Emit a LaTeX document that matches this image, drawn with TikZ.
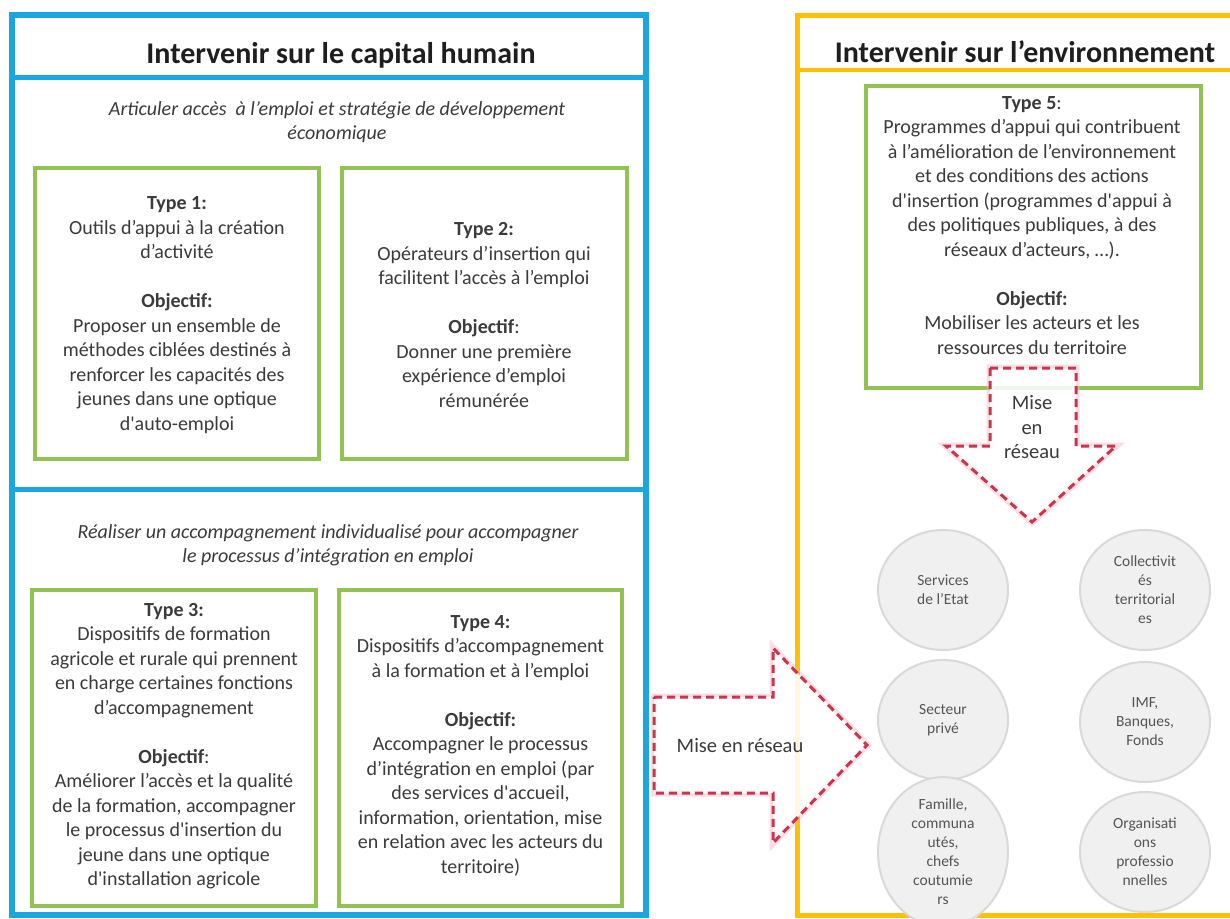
\documentclass[tikz,border=0pt]{standalone}
\usepackage{fontspec}
\setmainfont{Carlito}
\usetikzlibrary{shapes.geometric}
\definecolor{cblue}{HTML}{1AA5E3}
\definecolor{cyel}{HTML}{FFC000}
\definecolor{cgreen}{HTML}{92C352}
\definecolor{cred}{HTML}{C9344E}
\definecolor{cglow}{HTML}{F4B6C2}
\definecolor{ctext}{HTML}{3B3B3B}
\definecolor{ctitle}{HTML}{1E1E1E}
\definecolor{ccirc}{HTML}{F0F0F0}
\definecolor{ccircb}{HTML}{D9D9D9}
\definecolor{ccirct}{HTML}{555555}
\newcommand{\sq}{\textquotesingle}
\begin{document}
\begin{tikzpicture}[x=1pt,y=-1pt,
  frameblue/.style={draw=cblue,line width=6pt},
  frameyel/.style={draw=cyel,line width=5pt},
  greenbox/.style={draw=cgreen,line width=4pt,fill=white,inner sep=0pt,outer sep=0pt},
  maintitle/.style={font=\fontsize{30}{36}\selectfont\bfseries,text=ctitle,inner sep=0pt},
  subtitle/.style={font=\fontsize{20}{24.5}\selectfont\itshape,text=ctext,align=center,inner sep=0pt},
  bodytext/.style={font=\fontsize{20}{24.5}\selectfont,text=ctext,align=center,inner sep=0pt},
  actor/.style={ellipse,draw=ccircb,line width=2pt,fill=ccirc,minimum width=130pt,minimum height=120pt,inner sep=0pt,
    font=\fontsize{15.5}{19}\selectfont,text=ccirct,align=center},
  netarrow/.style={draw=cred,line width=3pt,dash pattern=on 8pt off 5pt,fill=white,fill opacity=0.88,draw opacity=1},
  netglow/.style={draw=cglow,line width=7pt,opacity=0.45},
  arrowtext/.style={font=\fontsize{20.5}{24.5}\selectfont,text=ctext,align=center,inner sep=0pt}
]
\useasboundingbox (0,0) rectangle (1230,918);
\fill[white] (0,0) rectangle (1230,918);

% ---- left frame: capital humain ----
\node[frameblue,minimum width=634pt,minimum height=900pt,inner sep=0pt] (leftframe) at (329,465) {};
\draw[cblue,line width=5pt] (leftframe.west |- 0,77) coordinate (lh1) -- (leftframe.east |- 0,77) coordinate (lh2);
\draw[cblue,line width=5pt] (leftframe.west |- 0,489) coordinate (lm1) -- (leftframe.east |- 0,489) coordinate (lm2);
\node[maintitle] (lefttitle) at (341,55) {Intervenir sur le capital humain};
\node[subtitle] (sub1) at (337,122) {Articuler accès\ \ à l’emploi et stratégie de développement\\économique};
\node[subtitle] (sub2) at (328,545.5) {Réaliser un accompagnement individualisé pour accompagner\\le processus d’intégration en emploi};

% ---- right frame: environnement ----
\node[frameyel,minimum width=443pt,minimum height=900pt,inner sep=0pt] (rightframe) at (1018.5,465) {};
\draw[cyel,line width=4pt] (rightframe.west |- 0,70) coordinate (rh1) -- (rightframe.east |- 0,70) coordinate (rh2);
\node[maintitle] (righttitle) at (1025,52) {Intervenir sur l’environnement};

% ---- green boxes ----
\node[greenbox,minimum width=284pt,minimum height=291pt] (b1) at (177,313.5) {};
\node[greenbox,minimum width=285pt,minimum height=291pt] (b2) at (484.5,313.5) {};
\node[greenbox,minimum width=284pt,minimum height=316pt] (b3) at (174,748) {};
\node[greenbox,minimum width=283pt,minimum height=316pt] (b4) at (480.5,748) {};
\node[greenbox,minimum width=335pt,minimum height=302pt] (b5) at (1033.5,237) {};

\node[bodytext] (t1) at (177,315) {\textbf{Type 1:}\\Outils d’appui à la création\\d’activité\\[24.5pt]
  \textbf{Objectif:}\\Proposer un ensemble de\\méthodes ciblées destinés à\\renforcer les capacités des\\jeunes dans une optique\\d\sq auto-emploi};
\node[bodytext] (t2) at (484,315) {\textbf{Type 2:}\\Opérateurs d’insertion qui\\facilitent l’accès à l’emploi\\[24.5pt]
  \textbf{Objectif}:\\Donner une première\\expérience d’emploi\\rémunérée};
\node[bodytext] (t3) at (174,746) {\textbf{Type 3:}\\Dispositifs de formation\\agricole et rurale qui prennent\\en charge certaines fonctions\\d’accompagnement\\[24.5pt]
  \textbf{Objectif}:\\Améliorer l’accès et la qualité\\de la formation, accompagner\\le processus d\sq insertion du\\jeune dans une optique\\d\sq installation agricole};
\node[bodytext] (t4) at (480.5,745.5) {\textbf{Type 4:}\\Dispositifs d’accompagnement\\à la formation et à l’emploi\\[24.5pt]
  \textbf{Objectif:}\\Accompagner le processus\\d’intégration en emploi (par\\des services d\sq accueil,\\information, orientation, mise\\en relation avec les acteurs du\\territoire)};
\node[bodytext] (t5) at (1032,225.5) {\textbf{Type 5}:\\Programmes d’appui qui contribuent\\à l’amélioration de l’environnement\\et des conditions des actions\\d\sq insertion (programmes d\sq appui à\\des politiques publiques, à des\\réseaux d’acteurs, …).\\[24.5pt]
  \textbf{Objectif:}\\Mobiliser les acteurs et les\\ressources du territoire};

% ---- actors ----
\node[actor] (c1) at (943,590) {Services\\de l’Etat};
\node[actor] (c2) at (1145,590) {Collectivit\\és\\territorial\\es};
\node[actor] (c3) at (943,720) {Secteur\\privé};
\node[actor] (c4) at (1145,722) {IMF,\\Banques,\\Fonds};
\node[actor] (c5) at (943,852) {Famille,\\communa\\utés,\\chefs\\coutumie\\rs};
\node[actor] (c6) at (1145,852) {Organisati\\ons\\professio\\nnelles};

% ---- down arrow (mise en réseau) ----
\coordinate (da1) at (990,368); \coordinate (da2) at (1076,368);
\coordinate (da3) at (1076,446); \coordinate (da4) at (1116,446);
\coordinate (datip) at (1032,522);
\coordinate (da6) at (946,446); \coordinate (da7) at (990,446);
\draw[netglow] (da1) -- (da2) -- (da3) -- (da4) -- (datip) -- (da6) -- (da7) -- cycle;
\draw[netarrow] (da1) -- (da2) -- (da3) -- (da4) -- (datip) -- (da6) -- (da7) -- cycle;
\node[arrowtext] (dat) at (1032,427.5) {Mise\\en\\réseau};

% ---- right arrow (mise en réseau) ----
\coordinate (ra1) at (654,697); \coordinate (ra2) at (773,697);
\coordinate (ra3) at (773,648); \coordinate (ratip) at (867,745);
\coordinate (ra5) at (773,843); \coordinate (ra6) at (773,793);
\coordinate (ra7) at (654,793);
\draw[netglow] (ra1) -- (ra2) -- (ra3) -- (ratip) -- (ra5) -- (ra6) -- (ra7) -- cycle;
\draw[netarrow] (ra1) -- (ra2) -- (ra3) -- (ratip) -- (ra5) -- (ra6) -- (ra7) -- cycle;
\node[arrowtext] (rat) at (740,746) {Mise en réseau};
\end{tikzpicture}
\end{document}
